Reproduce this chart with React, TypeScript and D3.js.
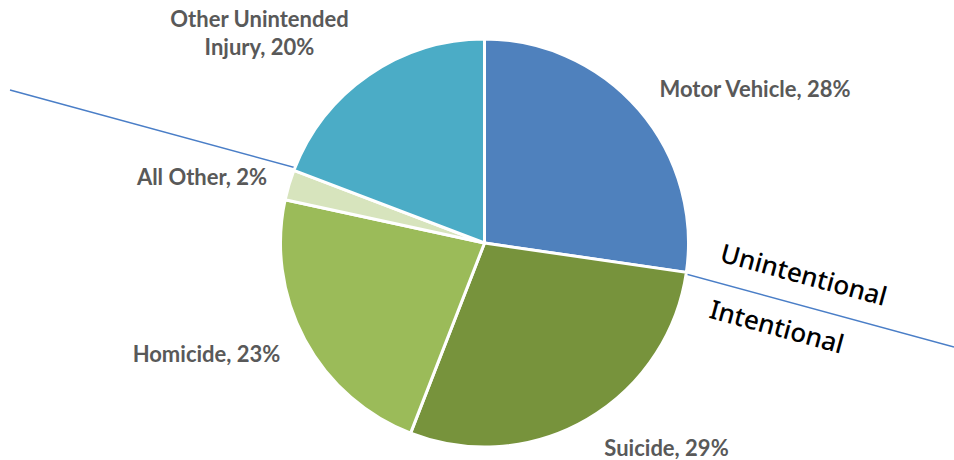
import React from "react";
import * as d3 from "d3";

const categories = ["Motor Vehicle", "Suicide", "Homicide", "All Other", "Other Unintended Injury"];
const values = [27.3, 28.6, 22.5, 2.4, 19.2];
const labelPercents = ["28%", "29%", "23%", "2%", "20%"];
const colors = ["#4F81BD", "#77933C", "#9BBB59", "#D7E4BD", "#4BACC6"];
const labelLines = [
  ["Motor Vehicle, 28%"],
  ["Suicide, 29%"],
  ["Homicide, 23%"],
  ["All Other, 2%"],
  ["Other Unintended", "Injury, 20%"],
];
const labelPos: [number, number][] = [
  [755, 97],
  [666.5, 456],
  [206.5, 362],
  [202, 185],
  [259.5, 27],
];
const regionLabels = ["Unintentional", "Intentional"];

const W = 954;
const H = 460;
const cx = 484.5;
const cy = 243;
const R = 204;

export default function App() {
  const pie = d3.pie<number>().sort(null).value((d) => d)(values);
  const arc = d3.arc<d3.PieArcDatum<number>>().innerRadius(0).outerRadius(R);
  const x1 = 10, y1 = 90, x2 = 954, y2 = 347;
  const ang = (Math.atan2(y2 - y1, x2 - x1) * 180) / Math.PI;
  return (
    <svg
      width={W}
      height={H}
      style={{ position: "absolute", left: 0, top: 0, background: "#fff" }}
      fontFamily="Lato, 'Noto Sans', sans-serif"
    >
      <line x1={x1} y1={y1} x2={x2} y2={y2} stroke="#4A7EC7" strokeWidth={1.5} />
      <g transform={`translate(${cx},${cy})`}>
        {pie.map((p, i) => (
          <path key={categories[i]} d={arc(p) || ""} fill={colors[i]} stroke="#fff" strokeWidth={3} strokeLinejoin="round" />
        ))}
      </g>
      {labelLines.map((lines, i) => (
        <text
          key={i}
          x={labelPos[i][0]}
          y={labelPos[i][1]}
          textAnchor="middle"
          fontSize={22}
          fontWeight={700}
          fill="#595959"
        >
          {lines.map((l, j) => (
            <tspan key={j} x={labelPos[i][0]} dy={j === 0 ? 0 : 28}>
              {l}
            </tspan>
          ))}
        </text>
      ))}
      <text
        transform={`translate(804,274) rotate(${ang})`}
        textAnchor="middle"
        dominantBaseline="central"
        fontSize={26}
        fontWeight={500}
        fontFamily="'Noto Sans', sans-serif"
        fill="#000"
      >
        {regionLabels[0]}
      </text>
      <text
        transform={`translate(777,326) rotate(${ang})`}
        textAnchor="middle"
        dominantBaseline="central"
        fontSize={26}
        fontWeight={500}
        fontFamily="'Noto Sans', sans-serif"
        fill="#000"
      >
        {regionLabels[1]}
      </text>
    </svg>
  );
}
